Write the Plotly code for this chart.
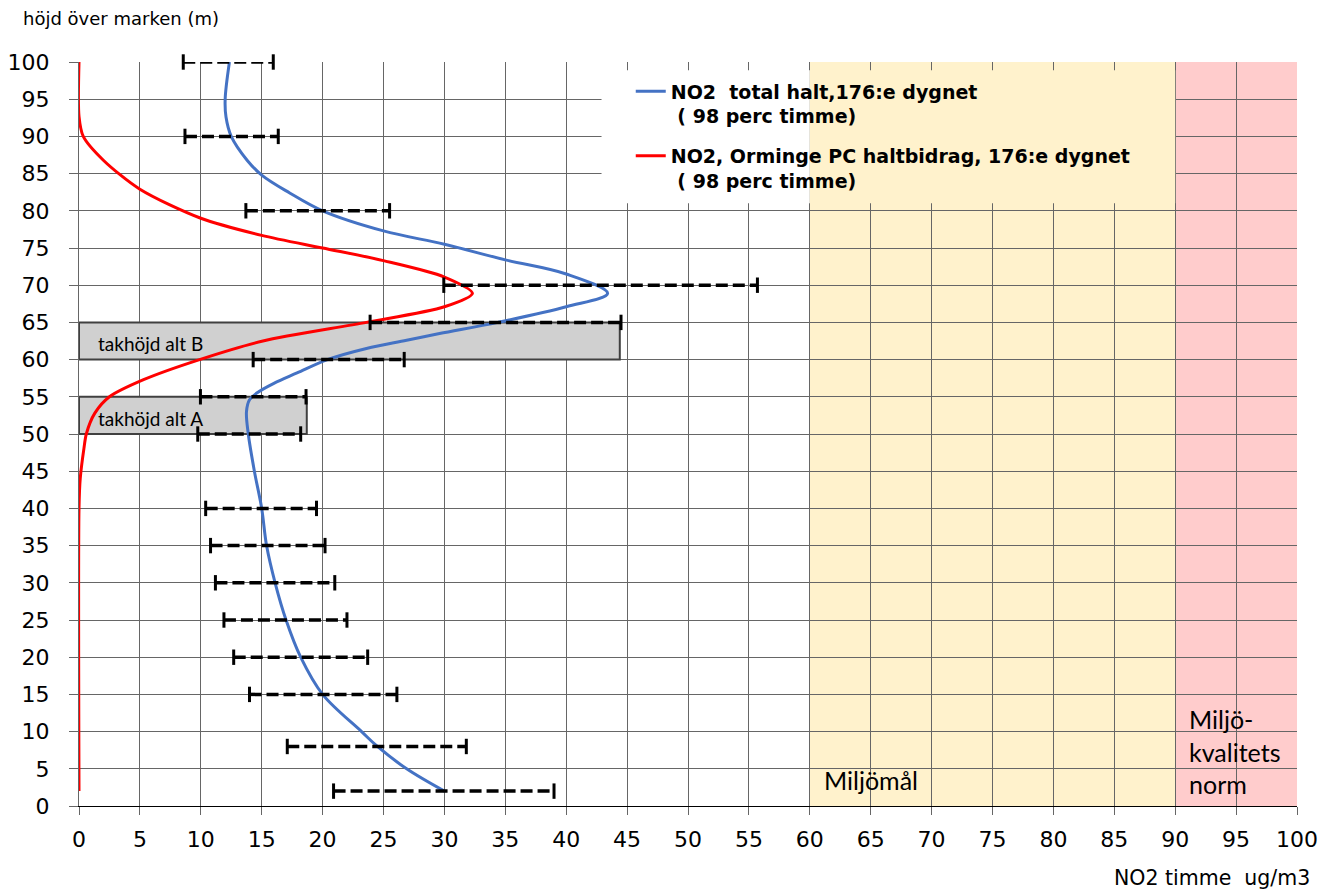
import plotly.graph_objects as go

# NO2 total concentration profile (98th percentile hour), value vs height
total_height = [2, 5, 8, 10, 15, 20, 25, 30, 35, 40, 45, 50, 53, 54.6, 55.5, 56.8, 58.2, 60,
                61.5, 62.6, 63.5, 65, 67.1, 68.9, 71.5, 73.4, 75.5, 77.3, 80, 82.4, 84.8,
                86.8, 90, 92.6, 95, 100]
total_value = [30.0, 26.9, 24.5, 23.2, 20.0, 18.2, 17.0, 16.1, 15.4, 15.0, 14.4, 13.9, 13.75, 14.0,
               14.6, 16.0, 17.9, 20.4, 23.6, 26.9, 29.6, 34.4, 40.0, 43.4, 40.0, 35.0, 30.0,
               25.0, 20.0, 17.3, 15.0, 13.8, 12.5, 12.07, 12.0, 12.35]

# Orminge PC contribution profile
contrib_height = [2, 40, 44, 48, 50, 52.8, 55, 57.3, 60, 62.5, 65, 67.1, 68.9, 71.1, 73.3, 75,
                  76.7, 79.0, 82.9, 86.8, 90, 92.7, 100]
contrib_value = [0, 0, 0.1, 0.4, 0.6, 1.3, 2.5, 5.3, 9.9, 15.1, 23.6, 30.0, 32.3, 30.0, 25.0,
                 20.0, 15.0, 10.0, 5.0, 2.0, 0.35, 0, 0]

# Uncertainty ranges at selected heights
range_height = [2, 8, 15, 20, 25, 30, 35, 40, 50, 55, 60, 65, 70, 80, 90, 100]
range_low = [20.9, 17.1, 14.0, 12.7, 11.9, 11.2, 10.8, 10.4, 9.75, 9.97, 14.3, 23.9, 29.95, 13.7, 8.7, 8.56]
range_high = [39.0, 31.8, 26.1, 23.7, 22.0, 21.0, 20.2, 19.5, 18.2, 18.64, 26.7, 44.5, 55.7, 25.5, 16.36, 15.95]

# Roof height alternatives: (label, x end, y bottom, y top)
roof_labels = ["takhöjd alt A", "takhöjd alt B"]
roof_xend = [18.7, 44.4]
roof_ybottom = [50, 60]
roof_ytop = [55, 65]

# Reference bands along the concentration axis
goal_band = [60, 90]
norm_band = [90, 100]

x_ticks = list(range(0, 101, 5))
y_ticks = list(range(0, 101, 5))

ARIAL_LIKE = "DejaVu Sans"
CALIBRI_LIKE = "Lato"
GRID = "#666666"

fig = go.Figure()

fig.add_trace(go.Scatter(
    x=total_value, y=total_height, mode="lines",
    line=dict(color="#4472C4", width=3, shape="spline", smoothing=1.0),
    name="NO2  total halt,176:e dygnet<br> ( 98 perc timme)",
    legendgroup="a",
))
fig.add_trace(go.Scatter(
    x=contrib_value, y=contrib_height, mode="lines",
    line=dict(color="#FF0000", width=3, shape="spline", smoothing=0.8),
    name="NO2, Orminge PC haltbidrag, 176:e dygnet<br> ( 98 perc timme)",
    legendgroup="b",
))

# dashed range bars with end caps
bx, by = [], []
for h, lo, hi in zip(range_height, range_low, range_high):
    bx += [lo, hi, None]
    by += [h, h, None]
fig.add_trace(go.Scatter(
    x=bx, y=by, mode="lines+markers", showlegend=False, cliponaxis=False,
    line=dict(color="black", width=3.5, dash="12px,5px"),
    marker=dict(symbol="line-ns", size=11, color="black", line=dict(color="black", width=3)),
))

shapes = []
# bands (under the grid)
shapes.append(dict(type="rect", xref="x", yref="y", x0=goal_band[0], x1=goal_band[1], y0=0, y1=100,
                   fillcolor="#FFF2CC", line=dict(width=0), layer="below"))
shapes.append(dict(type="rect", xref="x", yref="y", x0=norm_band[0], x1=norm_band[1], y0=0, y1=100,
                   fillcolor="#FFCCCC", line=dict(width=0), layer="below"))
# legend backdrop hiding the grid
shapes.append(dict(type="rect", xref="x", yref="y", x0=42.9, x1=goal_band[0], y0=81.0, y1=98.9,
                   fillcolor="white", line=dict(width=0), layer="between"))
shapes.append(dict(type="rect", xref="x", yref="y", x0=goal_band[0], x1=goal_band[1], y0=81.0, y1=98.9,
                   fillcolor="#FFF2CC", line=dict(width=0), layer="between"))
# roof boxes
for xe, yb, yt in zip(roof_xend, roof_ybottom, roof_ytop):
    shapes.append(dict(type="rect", xref="x", yref="y", x0=0, x1=xe, y0=yb, y1=yt,
                       fillcolor="#D0D0D0", line=dict(color="#404040", width=2), layer="between"))

annotations = []
for lab, yb, yt in zip(roof_labels, roof_ybottom, roof_ytop):
    annotations.append(dict(x=1.4, y=(yb + yt) / 2 - 0.4, xref="x", yref="y", text=lab,
                            showarrow=False, xanchor="left", yanchor="middle",
                            font=dict(family=CALIBRI_LIKE, size=19, color="black")))
annotations.append(dict(x=61.0, y=3.5, xref="x", yref="y", text="Miljömål", showarrow=False,
                        xanchor="left", yanchor="middle",
                        font=dict(family=CALIBRI_LIKE, size=25, color="black")))
annotations.append(dict(x=91.0, y=7.3, xref="x", yref="y", text="Miljö-<br>kvalitets<br>norm",
                        showarrow=False, xanchor="left", yanchor="middle", align="left",
                        font=dict(family=CALIBRI_LIKE, size=25, color="black")))
annotations.append(dict(x=-0.0479, y=1.0578, xref="paper", yref="paper", text="höjd över marken (m)",
                        showarrow=False, xanchor="left", yanchor="middle",
                        font=dict(family=ARIAL_LIKE, size=18, color="black")))
annotations.append(dict(x=1.0125, y=-0.0968, xref="paper", yref="paper", text="NO2 timme  ug/m3",
                        showarrow=False, xanchor="right", yanchor="middle",
                        font=dict(family=ARIAL_LIKE, size=20.5, color="black")))

fig.update_layout(
    width=1338, height=891,
    margin=dict(l=79, r=41, t=62, b=85),
    paper_bgcolor="white", plot_bgcolor="white",
    shapes=shapes, annotations=annotations,
    legend=dict(x=0.453, y=0.986, xanchor="left", yanchor="top",
                bgcolor="rgba(0,0,0,0)", valign="top", tracegroupgap=12,
                font=dict(family=ARIAL_LIKE, size=19, color="black", weight="bold")),
    xaxis=dict(range=[0, 100], tickvals=x_ticks, ticktext=[str(v) for v in x_ticks],
               showgrid=True, gridcolor=GRID, gridwidth=1, automargin=False,
               ticks="outside", ticklen=8, tickcolor=GRID, ticklabelstandoff=5,
               showline=True, linecolor="black", linewidth=1.2, zeroline=False,
               tickfont=dict(family=ARIAL_LIKE, size=22, color="black")),
    yaxis=dict(range=[0, 100], tickvals=y_ticks, ticktext=[str(v) for v in y_ticks],
               showgrid=True, gridcolor=GRID, gridwidth=1, automargin=False,
               ticks="outside", ticklen=9, tickcolor=GRID, ticklabelstandoff=15,
               showline=True, linecolor=GRID, linewidth=1, zeroline=False,
               tickfont=dict(family=ARIAL_LIKE, size=22, color="black")),
)

fig.write_html("out.html")
